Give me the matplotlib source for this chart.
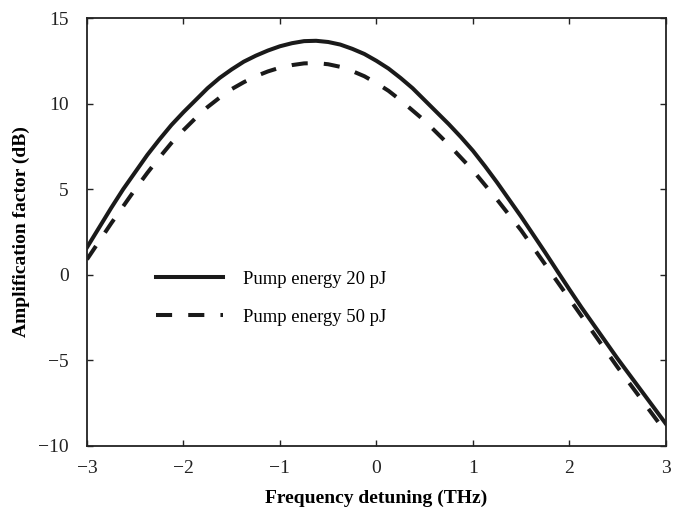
from matplotlib import pyplot as plt

plt.rcParams['font.family'] = ['Liberation Serif', 'DejaVu Serif']

# frequency detuning (THz)
detuning = [-3.0, -2.875, -2.75, -2.625, -2.5, -2.375, -2.25, -2.125,
            -2.0, -1.875, -1.75, -1.625, -1.5, -1.375, -1.25, -1.125,
            -1.0, -0.875, -0.75, -0.625, -0.5, -0.375, -0.25, -0.125,
            0.0, 0.125, 0.25, 0.375, 0.5, 0.625, 0.75, 0.875,
            1.0, 1.125, 1.25, 1.375, 1.5, 1.625, 1.75, 1.875,
            2.0, 2.125, 2.25, 2.375, 2.5, 2.625, 2.75, 2.875, 3.0]

# amplification factor (dB)
gain_20pj = [1.6, 2.75, 3.9, 5.0, 6.0, 7.0, 7.9, 8.75,
             9.5, 10.2, 10.9, 11.5, 12.0, 12.45, 12.8, 13.1,
             13.35, 13.53, 13.65, 13.67, 13.6, 13.45, 13.2, 12.9,
             12.5, 12.05, 11.5, 10.9, 10.2, 9.5, 8.8, 8.05,
             7.25, 6.35, 5.4, 4.4, 3.4, 2.35, 1.3, 0.22,
             -0.85, -1.9, -2.9, -3.9, -4.9, -5.85, -6.8, -7.75, -8.7]
gain_50pj = [0.9, 1.95, 3.0, 4.0, 5.0, 5.95, 6.85, 7.7,
             8.45, 9.15, 9.8, 10.35, 10.85, 11.25, 11.6, 11.88,
             12.1, 12.25, 12.35, 12.37, 12.3, 12.15, 11.9, 11.6,
             11.2, 10.75, 10.2, 9.6, 9.0, 8.3, 7.6, 6.85,
             6.1, 5.25, 4.4, 3.5, 2.6, 1.6, 0.6, -0.4,
             -1.4, -2.4, -3.4, -4.4, -5.4, -6.35, -7.3, -8.25, -9.2]

x_ticks = [-3, -2, -1, 0, 1, 2, 3]
y_ticks = [-10, -5, 0, 5, 10, 15]

fig = plt.figure(figsize=(6.85, 5.15), dpi=100)
ax = fig.add_axes([0.127, 0.134, 0.845, 0.831])

ax.plot(detuning, gain_20pj, color='#1a1a1a', lw=2.9, solid_joinstyle='round',
        label='Pump energy 20 pJ')
ax.plot(detuning, gain_50pj, color='#1a1a1a', lw=2.9, linestyle=(0, (4, 4)),
        label='Pump energy 50 pJ')

ax.set_xlim(-3, 3)
ax.set_ylim(-10, 15)
ax.set_xticks(x_ticks)
ax.set_yticks(y_ticks)
ax.set_xticklabels([str(t).replace('-', '\u2212') for t in x_ticks])
ax.set_yticklabels([str(t).replace('-', '\u2212') for t in y_ticks])
ax.tick_params(direction='in', length=4, width=1, top=True, right=True,
               labelsize=14, colors='#222222')
ax.tick_params(axis='y', pad=13)
ax.tick_params(axis='x', pad=10)
for s in ax.spines.values():
    s.set_linewidth(1.3)
    s.set_color('#222222')

ax.set_xlabel('Frequency detuning (THz)', fontsize=14, fontweight='bold', labelpad=9)
ax.set_ylabel('Amplification factor (dB)', fontsize=14, fontweight='bold', labelpad=6)

ax.legend(loc='upper left', bbox_to_anchor=(0.119, 0.409), frameon=False,
          fontsize=13.4, handlelength=3.6, handletextpad=1.1, labelspacing=1.12,
          borderpad=0, borderaxespad=0)

fig.savefig('out.png', dpi=100)
